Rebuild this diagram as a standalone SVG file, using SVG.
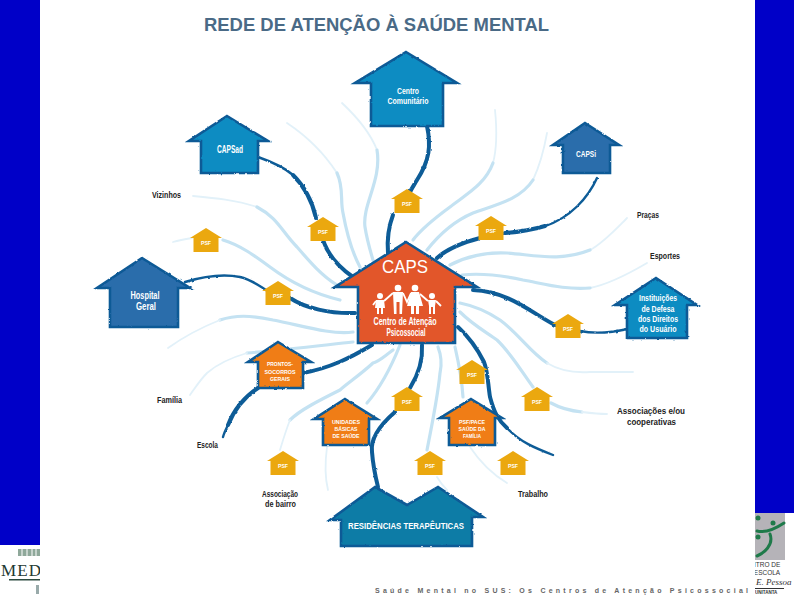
<svg xmlns="http://www.w3.org/2000/svg" xmlns:xlink="http://www.w3.org/1999/xlink" width="794" height="595" viewBox="0 0 794 595">
<style>
text{font-family:"Liberation Sans",Arial,sans-serif}
.w{fill:#fff;font-weight:bold;text-anchor:middle}
.k{fill:#222;font-weight:bold;font-size:9px}
.lt{fill:none;stroke:#c4e2f2;stroke-width:3.2;stroke-linecap:round}
.lf{fill:none;stroke:#e2f1f9;stroke-width:1.8;stroke-linecap:round}
.dk{fill:none;stroke:#0f5c97;stroke-width:4;stroke-linecap:round}
.dt{fill:none;stroke:#0f5c97;stroke-width:2.4;stroke-linecap:round}
.h{stroke:#0e5a96;stroke-width:2.6;stroke-linejoin:miter}
.c1{fill:#0b8cc2}.c2{fill:#2a6dab}.c3{fill:#f07d12}.c4{fill:#e2572b}.c5{fill:#0f7ba6}
.psf{fill:#eba80f}
.ps{fill:#fff;font-weight:bold;font-size:5.5px;text-anchor:middle}
</style>
<defs>
<filter id="r" x="-5%" y="-5%" width="110%" height="110%"><feTurbulence type="fractalNoise" baseFrequency="0.25" numOctaves="2" seed="4"/><feDisplacementMap in="SourceGraphic" scale="2.2" xChannelSelector="R" yChannelSelector="G"/></filter>
<g id="psf"><polygon class="psf" points="0,0 16,10 12.5,10 12.5,24 -12.5,24 -12.5,10 -16,10"/><text class="ps" y="16.5" textLength="10" lengthAdjust="spacingAndGlyphs">PSF</text></g>
<clipPath id="lc"><rect x="0" y="545" width="40" height="50"/></clipPath>
<clipPath id="rc"><rect x="755" y="513" width="39" height="82"/></clipPath>
</defs>
<rect width="794" height="595" fill="#fff"/>
<rect x="0" y="0" width="40" height="545" fill="#0000c8"/>
<rect x="755" y="0" width="39" height="513" fill="#0000c8"/>

<text x="204" y="31" font-size="18" font-weight="bold" fill="#4a6a86" textLength="345" lengthAdjust="spacingAndGlyphs">REDE DE ATENÇÃO À SAÚDE MENTAL</text>

<g id="connectors">
<g id="light">
<path class="lf" d="M342 103C358 118 370 132 377 150"/>
<path class="lt" d="M377 150C382 180 362 205 365 227C367 240 370 250 373 260"/>
<path class="lf" d="M287 123C305 135 322 150 337 173"/>
<path class="lt" d="M337 173C344 188 340 200 343 213C347 235 352 252 360 267"/>
<path class="lf" d="M193 196C215 198 236 200 257 207"/>
<path class="lt" d="M257 207C278 218 282 232 297 247C310 262 322 276 337 285"/>
<path class="lf" d="M173 242C180 240 186 239 192 238"/>
<path class="lt" d="M223 240C240 245 255 256 270 267C290 282 315 294 340 300"/>
<path class="lf" d="M495 110C497 130 497 148 493 163"/>
<path class="lt" d="M493 163C485 185 465 195 450 207C435 218 422 228 413 240"/>
<path class="lf" d="M547 133C544 150 540 165 533 180"/>
<path class="lt" d="M533 180C520 200 495 205 473 213C452 222 438 236 427 250"/>
<path class="lf" d="M627 218C615 230 603 243 590 250"/>
<path class="lt" d="M590 250C560 262 535 255 507 253C485 252 465 257 450 265"/>
<path class="lf" d="M647 263C630 273 610 284 590 288"/>
<path class="lt" d="M590 288C565 290 545 284 523 280C500 275 480 273 462 275"/>
<path class="lt" d="M460 303C475 306 488 312 500 320C518 333 530 352 547 363"/>
<path class="lf" d="M547 363C560 371 575 373 590 372C605 372 620 372 633 372"/>
<path class="lt" d="M460 312C473 325 486 332 497 340C510 352 522 372 533 387"/>
<path class="lt" d="M551 403C560 408 572 411 582 412"/>
<path class="lf" d="M582 412C590 413 598 414 607 414"/>
<path class="lt" d="M393 350C382 358 378 362 373 363C360 375 345 385 340 390C320 400 300 410 290 420"/>
<path class="lf" d="M290 420C286 430 283 440 280 450"/>
<path class="lt" d="M400 345C392 365 380 388 367 403"/>
<path class="lt" d="M353 332C330 335 300 325 273 320C250 315 235 315 220 320"/>
<path class="lf" d="M220 320C200 328 182 338 168 348"/>
<path class="lt" d="M353 342C325 345 285 350 247 353"/>
<path class="lf" d="M247 353C230 358 215 366 207 373C200 380 195 388 190 395"/>
<path class="lf" d="M327 447C325 462 325 478 328 490"/>
<path class="lt" d="M438 347C443 360 441 368 440 373C438 395 432 425 427 450"/>
<path class="lf" d="M437 477C440 482 443 486 447 490"/>
<path class="lt" d="M455 347C458 360 462 380 463 397"/>
<path class="lf" d="M470 447C480 462 492 474 507 483"/>
</g>
<g id="dark" filter="url(#r)">
<path class="dk" d="M427 126C431 145 430 160 417 180C414 185 412 188 410 192"/>
<path class="dk" d="M393 215C388 228 387 240 388 253"/>
<path class="dt" d="M258 157C275 163 285 168 293 175"/>
<path class="dk" d="M293 175C305 187 312 200 316 218"/>
<path class="dk" d="M323 240C328 255 340 268 353 277"/>
<path class="dt" d="M185 282C205 276 225 274 240 277C250 279 258 285 266 290"/>
<path class="dk" d="M290 298C305 308 330 314 355 313"/>
<path class="dt" d="M597 178C588 198 570 218 545 226"/>
<path class="dk" d="M545 226C532 230 518 232 505 233"/>
<path class="dk" d="M480 238C465 242 448 248 437 258"/>
<path class="dk" d="M473 290C510 292 530 312 555 325"/>
<path class="dt" d="M580 331C595 334 610 333 628 329"/>
<path class="dk" d="M303 373C330 368 350 358 372 345"/>
<path class="dk" d="M258 388C243 398 233 412 228 425"/>
<path class="dt" d="M228 425C226 429 224 433 223 437"/>
<path class="dk" d="M422 345C423 360 418 375 410 388"/>
<path class="dk" d="M395 412C380 425 370 438 372 452C373 465 375 475 378 487"/>
<path class="dk" d="M458 327C470 338 478 350 484 362C488 372 488 385 490 397C494 412 498 420 507 428"/>
<path class="dt" d="M507 428C520 442 535 448 553 455"/>
</g>
</g>

<g id="node-centro"><polygon class="h c1" filter="url(#r)" points="406,52 457,83 443,83 443,126 371,126 371,83 355,83"/><text class="w" font-size="9" x="408" y="94" textLength="22" lengthAdjust="spacingAndGlyphs">Centro</text><text class="w" font-size="9" x="408" y="104" textLength="41" lengthAdjust="spacingAndGlyphs">Comunitário</text></g>
<g id="node-capsad"><polygon class="h c1" filter="url(#r)" points="227,116 268,141 258,141 258,173 201,173 201,141 189,141"/><text class="w" font-size="10" x="230" y="153" textLength="26" lengthAdjust="spacingAndGlyphs">CAPSad</text></g>
<g id="node-hospital"><polygon class="h c2" filter="url(#r)" points="142,258 190,288 178,288 178,327 110,327 110,288 97,288"/><text class="w" font-size="10" x="145" y="299" textLength="29" lengthAdjust="spacingAndGlyphs">Hospital</text><text class="w" font-size="10" x="146" y="310" textLength="20" lengthAdjust="spacingAndGlyphs">Geral</text></g>
<g id="node-capsi"><polygon class="h c2" filter="url(#r)" points="585,123 619,145 610,145 610,173 563,173 563,145 553,145"/><text class="w" font-size="9" x="586" y="157" textLength="20" lengthAdjust="spacingAndGlyphs">CAPSi</text></g>
<g id="node-instituicoes"><polygon class="h c1" filter="url(#r)" points="656,278 697,305 687,305 687,338 627,338 627,305 615,305"/><text class="w" font-size="9" x="658" y="301" textLength="38" lengthAdjust="spacingAndGlyphs">Instituições</text><text class="w" font-size="9" x="658" y="312" textLength="33" lengthAdjust="spacingAndGlyphs">de Defesa</text><text class="w" font-size="9" x="658" y="322" textLength="40" lengthAdjust="spacingAndGlyphs">dos Direitos</text><text class="w" font-size="9" x="658" y="332" textLength="37" lengthAdjust="spacingAndGlyphs">do Usuário</text></g>
<g id="node-prontos"><polygon class="h c3" filter="url(#r)" points="278,342 311,362 303,362 303,388 258,388 258,362 248,362"/><text class="w" font-size="5.5" x="280" y="366" textLength="26" lengthAdjust="spacingAndGlyphs">PRONTOS-</text><text class="w" font-size="5.5" x="280" y="373.500" textLength="31" lengthAdjust="spacingAndGlyphs">SOCORROS</text><text class="w" font-size="5.5" x="280" y="380.500" textLength="20" lengthAdjust="spacingAndGlyphs">GERAIS</text></g>
<g id="node-unidades"><polygon class="h c3" filter="url(#r)" points="345,399 377,419 369,419 369,445 323,445 323,419 314,419"/><text class="w" font-size="5.5" x="346" y="424" textLength="28" lengthAdjust="spacingAndGlyphs">UNIDADES</text><text class="w" font-size="5.5" x="346" y="431" textLength="23" lengthAdjust="spacingAndGlyphs">BÁSICAS</text><text class="w" font-size="5.5" x="346" y="438" textLength="27" lengthAdjust="spacingAndGlyphs">DE SAÚDE</text></g>
<g id="node-psfpace"><polygon class="h c3" filter="url(#r)" points="471,399 502,418 495,418 495,445 449,445 449,418 440,418"/><text class="w" font-size="5.5" x="472" y="424" textLength="26" lengthAdjust="spacingAndGlyphs">PSF/PACE</text><text class="w" font-size="5.5" x="472" y="431" textLength="27" lengthAdjust="spacingAndGlyphs">SAÚDE DA</text><text class="w" font-size="5.5" x="472" y="438" textLength="18" lengthAdjust="spacingAndGlyphs">FAMÍLIA</text></g>
<g id="node-residencias"><polygon class="h c5" filter="url(#r)" points="375,487 407,505 438,487 483,517 472,517 472,546 341,546 341,520 330,520"/><text class="w" font-size="9" x="406" y="529" textLength="116" lengthAdjust="spacingAndGlyphs">RESIDÊNCIAS TERAPÊUTICAS</text></g>
<g id="node-caps"><polygon class="h c4" filter="url(#r)" points="406,242 477,287 455,287 455,343 358,343 358,287 335,287"/>
<text class="w" font-size="19" style="font-weight:normal" x="405" y="273" textLength="46" lengthAdjust="spacingAndGlyphs">CAPS</text>
<g fill="#fff" stroke="none"><circle cx="380" cy="296" r="3"/><path d="M376 300H384L385 308H383V314H381V308H379V314H377V308H375Z"/><circle cx="398" cy="288" r="3.300"/><path d="M393 292H403L402 314H399.500V302H396.500V314H394Z"/><circle cx="415" cy="288" r="3.300"/><path d="M411 292H419L423 306H419V314H416V306H414V314H411V306H407Z"/><circle cx="432" cy="296" r="3"/><path d="M428 300H436L435 306V314H433V307H431V314H429V306Z"/></g>
<g fill="none" stroke="#fff" stroke-width="1.800"><path d="M384 301L393 293M403 293L407 302L411 293M436 301L441 306M428 301L420 294M376 301L373 305"/></g>
<text class="w" font-size="10" x="405" y="325" textLength="63" lengthAdjust="spacingAndGlyphs">Centro de Atenção</text><text class="w" font-size="10" x="406" y="336" textLength="39" lengthAdjust="spacingAndGlyphs">Psicossocial</text></g>

<g id="psf-1"><use href="#psf" x="323" y="217"/></g>
<g id="psf-2"><use href="#psf" x="206" y="228"/></g>
<g id="psf-3"><use href="#psf" x="278" y="281"/></g>
<g id="psf-4"><use href="#psf" x="407" y="189"/></g>
<g id="psf-5"><use href="#psf" x="491" y="216"/></g>
<g id="psf-6"><use href="#psf" x="568" y="314"/></g>
<g id="psf-7"><use href="#psf" x="472" y="360"/></g>
<g id="psf-8"><use href="#psf" x="537" y="387"/></g>
<g id="psf-9"><use href="#psf" x="407" y="387"/></g>
<g id="psf-10"><use href="#psf" x="430" y="451"/></g>
<g id="psf-11"><use href="#psf" x="513" y="451"/></g>
<g id="psf-12"><use href="#psf" x="283" y="451"/></g>

<g id="labels">
<text class="k" x="152" y="198" textLength="29" lengthAdjust="spacingAndGlyphs">Vizinhos</text>
<text class="k" x="637" y="218" textLength="22" lengthAdjust="spacingAndGlyphs">Praças</text>
<text class="k" x="650" y="259" textLength="30" lengthAdjust="spacingAndGlyphs">Esportes</text>
<text class="k" x="157" y="403" textLength="25" lengthAdjust="spacingAndGlyphs">Família</text>
<text class="k" x="197" y="448" textLength="21" lengthAdjust="spacingAndGlyphs">Escola</text>
<text class="k" x="262" y="497" textLength="36" lengthAdjust="spacingAndGlyphs">Associação</text>
<text class="k" x="265" y="507" textLength="31" lengthAdjust="spacingAndGlyphs">de bairro</text>
<text class="k" x="518" y="497" textLength="30" lengthAdjust="spacingAndGlyphs">Trabalho</text>
<text class="k" x="617" y="414" textLength="68" lengthAdjust="spacingAndGlyphs">Associações e/ou</text>
<text class="k" x="627" y="425" textLength="49" lengthAdjust="spacingAndGlyphs">cooperativas</text>
</g>

<text x="375" y="593" font-size="7" font-weight="bold" fill="#666" textLength="373" lengthAdjust="spacing">Saúde Mental no SUS: Os Centros de Atenção Psicossocial</text>

<g id="logo-left" clip-path="url(#lc)">
<rect x="18" y="549" width="22" height="7" fill="#8fa89a"/>
<path d="M22 549v7M27 549v7M32 549v7M36 549v7" stroke="#fff" stroke-width="1"/>
<text x="1" y="576" font-size="17" fill="#1f3a33" style="font-family:'Liberation Serif',serif" textLength="40" lengthAdjust="spacing">MED</text>
<rect x="9" y="579" width="31" height="1.500" fill="#2c4a40"/>
<rect x="36" y="585" width="3" height="9" fill="#9aa"/>
</g>
<g id="logo-right" clip-path="url(#rc)">
<rect x="755" y="513" width="30" height="47" fill="#b5b3b8"/>
<g fill="none" stroke="#1f7a4a" stroke-width="3" stroke-linecap="round"><path d="M757 531C765 533 775 529 784 523"/><path d="M770 534C774 545 764 553 757 556"/></g>
<g fill="#1f7a4a"><circle cx="758" cy="518" r="2.500"/><circle cx="773" cy="523" r="2.500"/><circle cx="758" cy="537" r="2.500"/></g>
<text x="754" y="567" font-size="6.500" fill="#333">ITRO DE</text>
<text x="752" y="575" font-size="6.500" fill="#333">IESCOLA</text>
<text x="756" y="585" font-size="9" font-style="italic" fill="#333" style="font-family:'Liberation Serif',serif">E. Pessoa</text>
<rect x="755" y="588" width="29" height="1" fill="#333"/>
<text x="755" y="594" font-size="4.500" font-weight="bold" fill="#333">UNITANTA</text>
</g>
</svg>
